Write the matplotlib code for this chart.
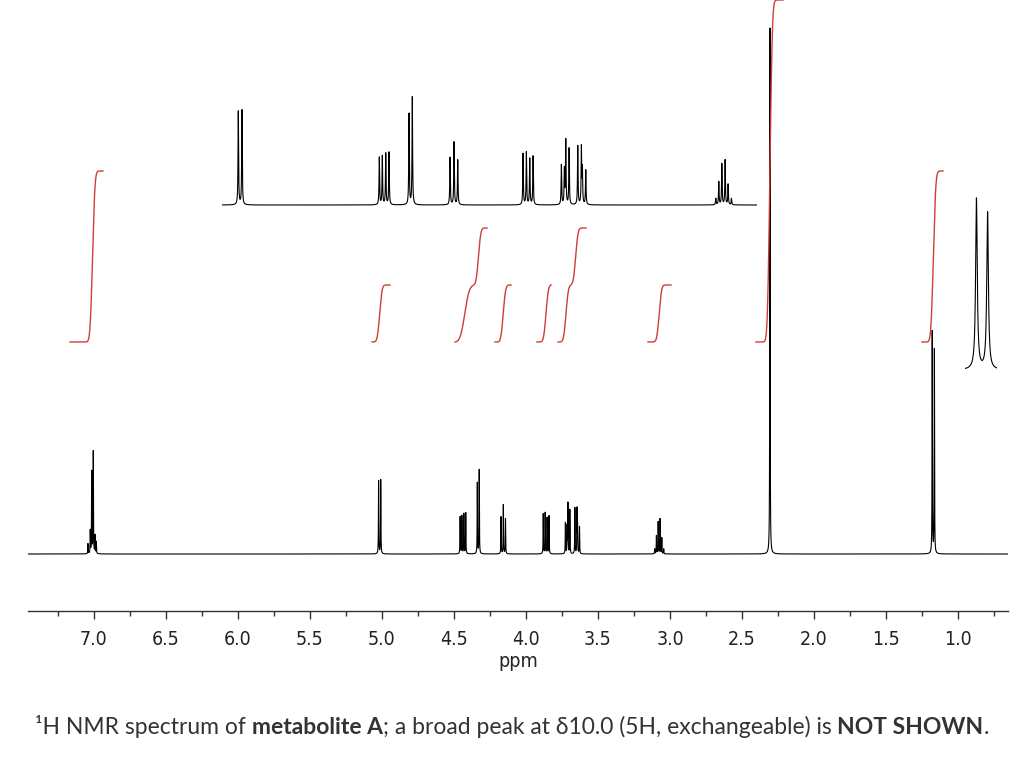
import numpy as np
import matplotlib.pyplot as plt
from matplotlib.ticker import FixedLocator

W, H = 1024, 764

# multiplets: line positions (ppm) and line heights (px above baseline in the main trace)
m703_ppm = [7.042, 7.026, 7.016, 7.005, 6.993, 6.984]
m703_h = [10, 23, 82, 102, 18, 12]
m502_ppm = [5.0236, 5.0088]
m502_h = [73, 74]
m443_ppm = [4.4574, 4.4453, 4.4316, 4.4184]
m443_h = [37, 38, 40, 41]
m432_ppm = [4.3381, 4.3249]
m432_h = [71, 84]
m415_ppm = [4.1734, 4.1574, 4.1425]
m415_h = [37, 49, 35]
m386_ppm = [3.8803, 3.8670, 3.8534, 3.8401]
m386_h = [40, 41, 36, 38]
m371_ppm = [3.7264, 3.7144, 3.7088, 3.6955]
m371_h = [31, 27, 50, 44]
m364_ppm = [3.6606, 3.6461, 3.6421, 3.6285]
m364_h = [46, 44, 27, 27]
m307_ppm = [3.1064, 3.0944, 3.0822, 3.0690, 3.0570, 3.0437]
m307_h = [5, 18, 32, 35, 16, 5]
m230_ppm = [2.306]
m230_h = [526]
m117_ppm = [1.1790, 1.1640]
m117_h = [222, 204]

multiplets = [(m703_ppm, m703_h), (m502_ppm, m502_h), (m443_ppm, m443_h),
              (m432_ppm, m432_h), (m415_ppm, m415_h), (m386_ppm, m386_h),
              (m371_ppm, m371_h), (m364_ppm, m364_h), (m307_ppm, m307_h),
              (m230_ppm, m230_h), (m117_ppm, m117_h)]

# integrals: region limits, step centres and proton counts
int_start = [7.167, 5.069, 4.493, 4.215, 3.924, 3.778, 3.153, 2.403, 1.250]
int_end = [6.938, 4.944, 4.271, 4.104, 3.826, 3.583, 2.993, 2.215, 1.104]
int_steps = [[7.010], [5.016], [4.425, 4.330], [4.158], [3.861], [3.722, 3.655],
             [3.075], [2.306], [1.171]]
int_nH = [[3], [1], [1, 1], [1], [1], [1, 1], [1], [6], [3]]
px_per_H = 57
int_base = 212

top_inset_scale = 1.28
right_inset_scale = 0.77
gamma = 0.0013

ticks = [7.0, 6.5, 6.0, 5.5, 5.0, 4.5, 4.0, 3.5, 3.0, 2.5, 2.0, 1.5, 1.0]


def spectrum(x, scale=1.0):
    y = np.zeros_like(x)
    for ppm, hts in multiplets:
        for c, h in zip(ppm, hts):
            y += scale * h * gamma**2 / ((x - c)**2 + gamma**2)
    return y


def pix_axes(x0, x1, ytop, ybot):
    return fig.add_axes([x0 / W, 1 - ybot / H, (x1 - x0) / W, (ybot - ytop) / H])


fig = plt.figure(figsize=(W / 100, H / 100), dpi=100)

# main spectrum
ax = pix_axes(28, 1008, 0, 611)
xmin, xmax = 7.4583, 0.6528
x = np.linspace(xmin, xmax, 400001)
ax.plot(x, spectrum(x), color='black', lw=0.8)
ax.set_xlim(xmin, xmax)
ax.set_ylim(-57, 554)

red = '#cf3d36'
for a, b, cs, ns in zip(int_start, int_end, int_steps, int_nH):
    xi = np.linspace(a, b, 600)
    yi = np.full_like(xi, float(int_base))
    for c, n in zip(cs, ns):
        sig = 0.025 if abs(c - 4.425) < 1e-6 else 0.013
        g = np.exp(-0.5 * ((xi - c) / sig)**2)
        yi += n * px_per_H * np.cumsum(g) / g.sum()
    ax.plot(xi, yi, color=red, lw=1.0, clip_on=False)

for s in ['top', 'right', 'left']:
    ax.spines[s].set_visible(False)
ax.spines['bottom'].set_color('#333333')
ax.spines['bottom'].set_linewidth(1.0)
ax.set_yticks([])
ax.set_xticks(ticks)
ax.set_xticklabels([f'{t:.1f}' for t in ticks])
ax.xaxis.set_minor_locator(FixedLocator(np.arange(0.75, 7.3, 0.5)))
ax.tick_params(axis='x', which='major', direction='out', length=6, width=1,
               color='#333333', labelsize=14, pad=8, labelcolor='#222222')
ax.tick_params(axis='x', which='minor', direction='out', length=3.5, width=1,
               color='#333333')
for lab in ax.get_xticklabels():
    lab.set_family('DejaVu Sans')
    lab.set_stretch('condensed')
ax.set_xlabel('ppm', fontsize=14, family='DejaVu Sans', stretch='condensed',
              labelpad=2, color='#222222')
ax.patch.set_alpha(0)

# top expansion 5.09 - 2.94 ppm
ax2 = pix_axes(222, 757, 60, 215)
x2 = np.linspace(5.089, 2.941, 200001)
ax2.plot(x2, spectrum(x2, top_inset_scale), color='black', lw=0.8)
ax2.set_xlim(5.089, 2.941)
ax2.set_ylim(-10, 145)
ax2.axis('off')

# right expansion of the 1.17 doublet
ax3 = pix_axes(965, 997, 180, 375)
x3 = np.linspace(1.1944, 1.1513, 20001)
ax3.plot(x3, spectrum(x3, right_inset_scale), color='black', lw=0.8)
ax3.set_xlim(1.1944, 1.1513)
ax3.set_ylim(-5, 190)
ax3.axis('off')

# caption with mixed weights
pieces = [('\u00b9H NMR spectrum of ', 'normal'), ('metabolite A', 'bold'),
          ('; a broad peak at \u03b410.0 (5H, exchangeable) is ', 'normal'),
          ('NOT SHOWN', 'bold'), ('.', 'normal')]
renderer = fig.canvas.get_renderer()
ty = 1 - 727 / H
texts = []
for s, wt in pieces:
    t = fig.text(0, ty, s, fontsize=16.5, fontweight=wt, va='center', ha='left',
                 family=['Lato', 'DejaVu Sans'], color='#333333')
    texts.append(t)
widths = [t.get_window_extent(renderer).width for t in texts]
xpos = (W - sum(widths)) / 2
for t, w in zip(texts, widths):
    t.set_x(xpos / W)
    xpos += w

fig.savefig('out.png', dpi=100)
